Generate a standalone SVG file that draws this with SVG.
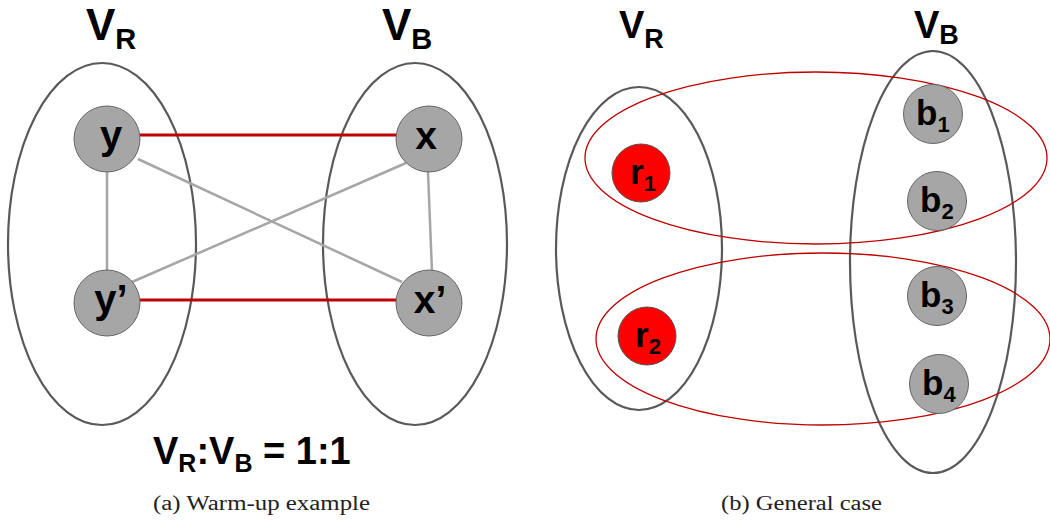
<svg xmlns="http://www.w3.org/2000/svg" width="1050" height="522" viewBox="0 0 1050 522">
<style>
.set{fill:none;stroke:#595959;stroke-width:2.2}
.hyper{fill:none;stroke:#c00000;stroke-width:1.3}
.node{fill:#a6a6a6;stroke:#666;stroke-width:1}
.rnode{fill:#ff0000;stroke:#555;stroke-width:1}
.red{stroke:#c00000;stroke-width:3}
.gray{stroke:#a6a6a6;stroke-width:2.5}
.lbl{font-family:"Liberation Sans",Arial,sans-serif;font-weight:bold;fill:#000}
.cap{font-family:"Liberation Serif","Times New Roman",serif;font-size:20px;fill:#222}
</style>
<rect width="1050" height="522" fill="#fff"/>
<!-- Panel (a) -->
<g id="setR_a"><ellipse class="set" cx="102" cy="244" rx="94" ry="181"/></g>
<g id="setB_a"><ellipse class="set" cx="415" cy="244" rx="92" ry="181"/></g>
<g id="connectors_a">
<line class="red" x1="140" y1="135" x2="397" y2="135"/>
<line class="red" x1="140" y1="300" x2="396" y2="300"/>
<line class="gray" x1="107" y1="172" x2="107" y2="272"/>
<line class="gray" x1="428" y1="172" x2="432" y2="272"/>
<line class="gray" x1="138" y1="159" x2="402" y2="282"/>
<line class="gray" x1="406" y1="163" x2="132" y2="282"/>
</g>
<g id="node_y"><circle class="node" cx="107" cy="139" r="33"/><text class="lbl" x="111" y="149" font-size="40" text-anchor="middle">y</text></g>
<g id="node_x"><circle class="node" cx="429" cy="139" r="33"/><text class="lbl" x="426" y="149" font-size="39" text-anchor="middle">x</text></g>
<g id="node_y2"><circle class="node" cx="107" cy="303" r="33"/><text class="lbl" x="111" y="313" font-size="40" text-anchor="middle">y’</text></g>
<g id="node_x2"><circle class="node" cx="429" cy="303" r="33"/><text class="lbl" x="430" y="313" font-size="39" text-anchor="middle">x’</text></g>
<g id="label_VR_a"><text class="lbl" x="86" y="40" font-size="44">V<tspan font-size="29" dy="9">R</tspan></text></g>
<g id="label_VB_a"><text class="lbl" x="382" y="40" font-size="44">V<tspan font-size="29" dy="9">B</tspan></text></g>
<g id="ratio"><text class="lbl" x="153" y="464" font-size="38">V<tspan font-size="25" dy="8">R</tspan><tspan dy="-8">:V</tspan><tspan font-size="25" dy="8">B</tspan><tspan dy="-8"> = 1:1</tspan></text></g>
<text class="cap" x="153" y="510" textLength="217" lengthAdjust="spacingAndGlyphs">(a)  Warm-up example</text>
<!-- Panel (b) -->
<g id="setR_b"><ellipse class="set" cx="639" cy="248.5" rx="83" ry="161.5"/></g>
<g id="setB_b"><ellipse class="set" cx="933" cy="262" rx="83" ry="211"/></g>
<g id="connectors_b">
<ellipse class="hyper" cx="816" cy="158" rx="231" ry="86"/>
<ellipse class="hyper" cx="823" cy="339" rx="227" ry="86"/>
</g>
<g id="node_r1"><circle class="rnode" cx="641" cy="173" r="29"/><text class="lbl" x="630" y="184" font-size="35">r<tspan font-size="22" dy="7">1</tspan></text></g>
<g id="node_r2"><circle class="rnode" cx="647" cy="336" r="29"/><text class="lbl" x="635" y="347" font-size="35">r<tspan font-size="22" dy="7">2</tspan></text></g>
<g id="node_b1"><circle class="node" cx="933" cy="114" r="29.5"/><text class="lbl" x="916" y="125" font-size="35">b<tspan font-size="22" dy="7">1</tspan></text></g>
<g id="node_b2"><circle class="node" cx="937" cy="201" r="29.5"/><text class="lbl" x="920" y="212" font-size="35">b<tspan font-size="22" dy="7">2</tspan></text></g>
<g id="node_b3"><circle class="node" cx="937" cy="296" r="29.5"/><text class="lbl" x="920" y="307" font-size="35">b<tspan font-size="22" dy="7">3</tspan></text></g>
<g id="node_b4"><circle class="node" cx="939" cy="384" r="29.5"/><text class="lbl" x="922" y="395" font-size="35">b<tspan font-size="22" dy="7">4</tspan></text></g>
<g id="label_VR_b"><text class="lbl" x="619" y="38" font-size="38">V<tspan font-size="27" dy="10">R</tspan></text></g>
<g id="label_VB_b"><text class="lbl" x="914" y="38" font-size="38">V<tspan font-size="27" dy="6">B</tspan></text></g>
<text class="cap" x="721" y="510" textLength="161" lengthAdjust="spacingAndGlyphs">(b)  General case</text>
</svg>
